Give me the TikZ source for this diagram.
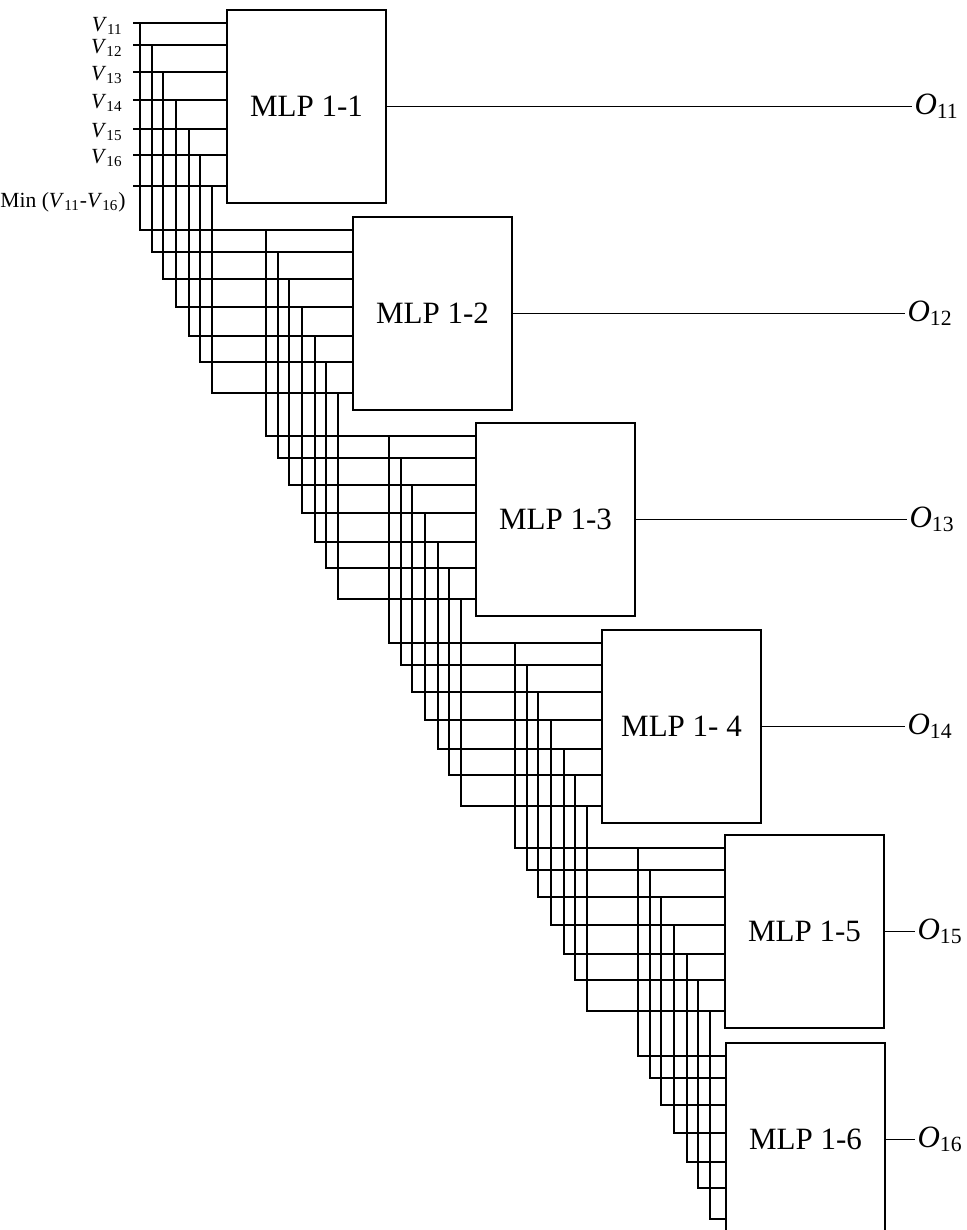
\documentclass[tikz,border=0pt]{standalone}
\usepackage{fontspec}
\setmainfont{Liberation Serif}
\usetikzlibrary{positioning,calc}
\tikzset{
  mlp/.style={draw=black,line width=1.1pt,inner sep=0pt,outer sep=0pt,
    minimum width=79.5pt,minimum height=96.5pt,anchor=north west,
    font=\fontsize{15.5}{18}\selectfont},
  wire/.style={draw=black,line width=0.55pt},
  vin/.style={anchor=east,inner sep=1pt,font=\fontsize{10.8}{12}\selectfont},
  vout/.style={anchor=west,inner sep=1pt,font=\fontsize{15.5}{18}\selectfont},
}

\begin{document}
\begin{tikzpicture}[x=0.5pt,y=-0.5pt]
\useasboundingbox (0,0) rectangle (967,1230);
% the six networks
\node[mlp] (m1) at (227,10) {MLP 1-1};
\node[mlp] (m2) at (353,217) {MLP 1-2};
\node[mlp] (m3) at (476,423) {MLP 1-3};
\node[mlp] (m4) at (602,630) {MLP 1- 4};
\node[mlp] (m5) at (725,835) {MLP 1-5};
\node[mlp] (m6) at (726,1043) {MLP 1-6};
% input points and taps of every network
\foreach \k in {1,...,6} {
  \foreach \j/\dy/\dx in {1/13/-87,2/35/-75,3/62/-64,4/90/-51,5/119/-38,6/145/-27,7/176/-15} {
    \coordinate (in\k-\j) at ($(m\k.north west)+(0,\dy)$);
    \coordinate (tap\k-\j) at ($(m\k.north west)+(\dx,\dy)$);
  }
}
\coordinate (src) at (133,0);
% feed lines into MLP 1-1
\foreach \j in {1,...,7}
  \draw[wire] (in1-\j -| src) -- (in1-\j);
\foreach \j/\n in {1/11,2/12,3/13,4/14,5/15,6/16}
  \node[vin] (lv\j) at ($(in1-\j -| src)+(-8,3)$) {\textit{V}\textsubscript{\n}};
\node[vin] (lmin) at ($(in1-7 -| src)+(-5,16)$)
  {Min (\textit{V}\textsubscript{11}-\textit{V}\textsubscript{16})};
% pass the inputs down to the next network
\foreach \k [evaluate=\k as \n using int(\k+1)] in {1,...,5}
  \foreach \j in {1,...,7}
    \draw[wire] (tap\k-\j) |- (in\n-\j);
% outputs
\foreach \k/\xo in {1/912,2/905,3/907,4/905,5/915,6/915} {
  \coordinate (o\k) at (\xo,0);
  \draw[wire] (m\k.east) -- (m\k.east -| o\k)
    node[vout] (lo\k) {\textit{O}\textsubscript{1\k}};
}
\end{tikzpicture}
\end{document}
